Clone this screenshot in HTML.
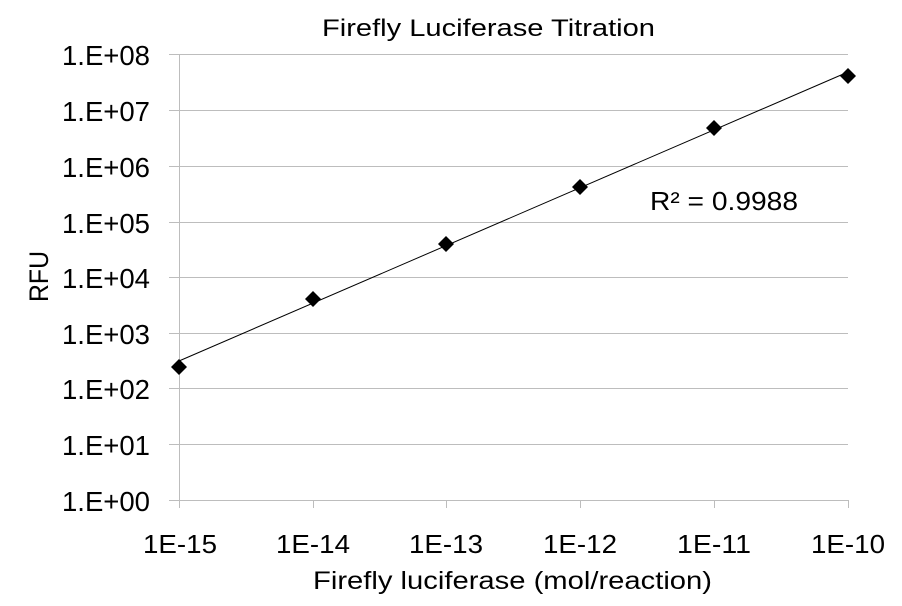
<!DOCTYPE html><html><head><style>body{margin:0;background:#fff}</style></head><body>
<svg width="902" height="601" xmlns="http://www.w3.org/2000/svg" font-family="Liberation Sans, sans-serif">
<rect width="902" height="601" fill="#fff"/>
<g stroke="#bdbdbd" stroke-width="1">
<line x1="169" x2="848" y1="54.5" y2="54.5"/><line x1="169" x2="848" y1="110.5" y2="110.5"/>
<line x1="169" x2="848" y1="166.5" y2="166.5"/><line x1="169" x2="848" y1="222.5" y2="222.5"/>
<line x1="169" x2="848" y1="277.5" y2="277.5"/><line x1="169" x2="848" y1="333.5" y2="333.5"/>
<line x1="169" x2="848" y1="388.5" y2="388.5"/><line x1="169" x2="848" y1="444.5" y2="444.5"/>
<line x1="169" x2="848" y1="500.5" y2="500.5"/>
<line x1="179.5" x2="179.5" y1="54" y2="508"/>
<line x1="313.5" x2="313.5" y1="500" y2="508"/><line x1="446.5" x2="446.5" y1="500" y2="508"/>
<line x1="580.5" x2="580.5" y1="500" y2="508"/><line x1="714.5" x2="714.5" y1="500" y2="508"/>
<line x1="848.5" x2="848.5" y1="500" y2="508"/>
</g>
<line x1="179" y1="361" x2="848" y2="72" stroke="#000" stroke-width="1"/>
<g fill="#000">
<polygon points="179,359 187,367 179,375 171,367"/>
<polygon points="313,291 321,299 313,307 305,299"/>
<polygon points="446,236 454,244 446,252 438,244"/>
<polygon points="580,179 588,187 580,195 572,187"/>
<polygon points="714,120 722,128 714,136 706,128"/>
<polygon points="848,68 856,76 848,84 840,76"/>
</g>
<g font-size="28" fill="#000">
<text x="62" y="65" textLength="88" lengthAdjust="spacingAndGlyphs">1.E+08</text>
<text x="62" y="121" textLength="88" lengthAdjust="spacingAndGlyphs">1.E+07</text>
<text x="62" y="177" textLength="88" lengthAdjust="spacingAndGlyphs">1.E+06</text>
<text x="62" y="233" textLength="88" lengthAdjust="spacingAndGlyphs">1.E+05</text>
<text x="62" y="288" textLength="88" lengthAdjust="spacingAndGlyphs">1.E+04</text>
<text x="62" y="344" textLength="88" lengthAdjust="spacingAndGlyphs">1.E+03</text>
<text x="62" y="399" textLength="88" lengthAdjust="spacingAndGlyphs">1.E+02</text>
<text x="62" y="455" textLength="88" lengthAdjust="spacingAndGlyphs">1.E+01</text>
<text x="62" y="511" textLength="88" lengthAdjust="spacingAndGlyphs">1.E+00</text>
</g>
<g font-size="26" fill="#000">
<text x="143" y="553" textLength="74" lengthAdjust="spacingAndGlyphs">1E-15</text>
<text x="276" y="553" textLength="74" lengthAdjust="spacingAndGlyphs">1E-14</text>
<text x="409" y="553" textLength="74" lengthAdjust="spacingAndGlyphs">1E-13</text>
<text x="543" y="553" textLength="74" lengthAdjust="spacingAndGlyphs">1E-12</text>
<text x="677" y="553" textLength="74" lengthAdjust="spacingAndGlyphs">1E-11</text>
<text x="811" y="553" textLength="74" lengthAdjust="spacingAndGlyphs">1E-10</text>
<text x="650" y="210" textLength="148" lengthAdjust="spacingAndGlyphs">R² = 0.9988</text>
</g>
<g font-size="25" fill="#000">
<text x="313" y="589" textLength="399" lengthAdjust="spacingAndGlyphs">Firefly luciferase (mol/reaction)</text>
<text x="322" y="36" font-size="24" textLength="333" lengthAdjust="spacingAndGlyphs">Firefly Luciferase Titration</text>
<text x="0" y="0" font-size="27" transform="translate(48 302) rotate(-90)" textLength="51" lengthAdjust="spacingAndGlyphs">RFU</text>
</g>
</svg>
</body></html>
